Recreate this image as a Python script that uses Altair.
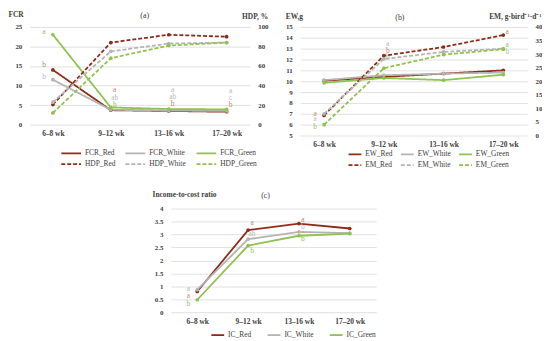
import altair as alt
import pandas as pd

FONT = "Liberation Serif"
RED = "#8E2C17"
WHITE = "#B4B4B4"
GREEN = "#8FC24E"
LET_COL = {"red": "#C97F6A", "white": "#B8B8B8", "green": "#8DC05A"}
TXT = "#404040"

cats = ["6–8 wk", "9–12 wk", "13–16 wk", "17–20 wk"]

# Panel (a)
fcr_names = ["FCR_Red", "FCR_White", "FCR_Green"]
fcr_red = [14.0, 3.7, 3.5, 3.3]
fcr_white = [11.5, 3.8, 3.6, 3.5]
fcr_green = [23.0, 4.4, 4.0, 3.9]
hdp_names = ["HDP_Red", "HDP_White", "HDP_Green"]
hdp_red = [20.5, 84.0, 92.0, 90.0]
hdp_white = [23.0, 75.0, 83.0, 84.0]
hdp_green = [12.0, 68.0, 81.0, 84.0]

a_let_cat = ["6–8 wk", "6–8 wk", "6–8 wk", "9–12 wk", "9–12 wk", "9–12 wk",
             "13–16 wk", "13–16 wk", "13–16 wk", "17–20 wk", "17–20 wk", "17–20 wk"]
a_let_txt = ["a", "b", "b", "a", "ab", "b", "a", "ab", "b", "a", "c", "b"]
a_let_val = [23.8, 15.3, 12.2, 8.8, 6.8, 5.0, 8.8, 7.0, 5.2, 8.5, 6.8, 5.0]
a_let_grp = ["green", "red", "white", "red", "white", "green",
             "white", "white", "red", "white", "white", "red"]

# Panel (b)
ew_names = ["EW_Red", "EW_White", "EW_Green"]
ew_red = [10.05, 10.4, 10.7, 11.0]
ew_white = [10.1, 10.55, 10.7, 10.8]
ew_green = [9.85, 10.3, 10.1, 10.6]
em_names = ["EM_Red", "EM_White", "EM_Green"]
em_red = [7.4, 29.4, 32.6, 37.0]
em_white = [8.0, 28.2, 30.8, 32.0]
em_green = [4.0, 24.8, 29.8, 31.8]

b_let_cat = ["6–8 wk", "6–8 wk", "6–8 wk", "9–12 wk", "9–12 wk", "9–12 wk",
             "17–20 wk", "17–20 wk", "17–20 wk"]
b_let_txt = ["a", "a", "b", "a", "b", "b", "a", "a", "b"]
b_let_val = [7.0, 6.5, 5.8, 13.4, 12.8, 12.2, 14.5, 13.3, 12.7]
b_let_grp = ["red", "white", "green", "white", "red", "green", "red", "green", "white"]

# Panel (c)
ic_names = ["IC_Red", "IC_White", "IC_Green"]
ic_red = [0.8, 3.17, 3.42, 3.23]
ic_white = [0.87, 2.82, 3.1, 3.05]
ic_green = [0.48, 2.57, 2.95, 3.03]

c_let_cat = ["6–8 wk", "6–8 wk", "6–8 wk", "9–12 wk", "9–12 wk", "9–12 wk",
             "13–16 wk", "13–16 wk", "13–16 wk"]
c_let_txt = ["a", "a", "b", "a", "ab", "b", "a", "b", "b"]
c_let_val = [0.9, 0.62, 0.32, 3.45, 3.02, 2.38, 3.55, 3.27, 2.82]
c_let_grp = ["white", "red", "green", "red", "white", "green", "red", "white", "green"]


def make_df(names, vals):
    rows = []
    for n, v in zip(names, vals):
        for c, y in zip(cats, v):
            rows.append({"cat": c, "series": n, "val": y})
    return pd.DataFrame(rows)


def make_let(cat, txt, val, grp):
    return pd.DataFrame({"cat": cat, "txt": txt, "val": val,
                         "col": [LET_COL[g] for g in grp]})


def xenc(pad):
    return alt.X("cat:N", sort=cats, scale=alt.Scale(type="point", padding=pad),
                 axis=alt.Axis(title=None, labelAngle=0, domain=False, ticks=False,
                               grid=False, labelFont=FONT, labelFontSize=7.5,
                               labelFontWeight="bold", labelColor=TXT, labelPadding=5))


def yaxis(vals, title, orient, tx, ty, grid, align):
    return alt.Axis(values=vals, format=".1~f", title=title, orient=orient, titleAngle=0,
                    titleAlign=align, titleBaseline="middle", titleX=tx, titleY=ty,
                    titleFont=FONT, titleFontSize=7.5, titleFontWeight="bold",
                    titleColor=TXT, grid=grid, gridColor="#D9D9D9", gridWidth=0.8,
                    domain=False, ticks=False, labelFont=FONT, labelFontSize=7,
                    labelFontWeight="bold", labelColor=TXT, labelPadding=8)


def legend(lx, ly, cp, path, loff):
    return alt.Legend(title=None, orient="none", legendX=lx, legendY=ly, columns=3,
                      direction="horizontal", symbolType=path, symbolSize=100,
                      symbolStrokeWidth=1.8, labelFont=FONT, labelFontSize=7.5,
                      labelColor=TXT, columnPadding=cp, rowPadding=1, labelOffset=loff)


def letter_layers(ldf, pad, y):
    first = ldf[ldf["cat"] == cats[0]]
    rest = ldf[ldf["cat"] != cats[0]]
    l1 = alt.Chart(first).mark_text(font=FONT, fontSize=7.5, dx=-9).encode(
        x=xenc(pad), y=y, text="txt:N", color=alt.Color("col:N", scale=None))
    l2 = alt.Chart(rest).mark_text(font=FONT, fontSize=7.5, dx=4).encode(
        x=xenc(pad), y=y, text="txt:N", color=alt.Color("col:N", scale=None))
    return [l1, l2]


def dual_panel(ln, lv, rn, rv, ldom, lticks, ltitle, ltx, lty, rdom, rticks, rtitle,
               rtx, rty, ldf, w, h, title, tdx, toff, leg, pad):
    dom = ln + rn
    cscale = alt.Scale(domain=dom, range=[RED, WHITE, GREEN] * 2)
    dscale = alt.Scale(domain=dom, range=[[1, 0]] * 3 + [[4, 2]] * 3)
    yl = alt.Y("val:Q", scale=alt.Scale(domain=ldom, nice=False, zero=False),
               axis=yaxis(lticks, ltitle, "left", ltx, lty, True, "left"))
    yr = alt.Y("val:Q", scale=alt.Scale(domain=rdom, nice=False, zero=False),
               axis=yaxis(rticks, rtitle, "right", rtx, rty, False, "right"))
    left_line = alt.Chart(make_df(ln, lv)).mark_line(
        strokeWidth=1.8, point=alt.OverlayMarkDef(filled=True, size=14)).encode(
        x=xenc(pad), y=yl,
        color=alt.Color("series:N", scale=cscale, legend=leg),
        strokeDash=alt.StrokeDash("series:N", scale=dscale, legend=leg))
    left = alt.layer(left_line, *letter_layers(ldf, pad, yl))
    right = alt.Chart(make_df(rn, rv)).mark_line(
        strokeWidth=1.8, point=alt.OverlayMarkDef(filled=True, size=14)).encode(
        x=xenc(pad), y=yr,
        color=alt.Color("series:N", scale=cscale, legend=leg),
        strokeDash=alt.StrokeDash("series:N", scale=dscale, legend=leg))
    return alt.layer(left, right).resolve_scale(y="independent").properties(
        width=w, height=h,
        title=alt.TitleParams(title, dx=tdx, font=FONT, fontSize=8,
                              fontWeight="normal", color=TXT, offset=toff))


pa = dual_panel(fcr_names, [fcr_red, fcr_white, fcr_green],
                hdp_names, [hdp_red, hdp_white, hdp_green],
                [0, 25], [0, 5, 10, 15, 20, 25], "FCR", -22, -13,
                [0, 100], [0, 20, 40, 60, 80, 100], "HDP, %", 18, -11,
                make_let(a_let_cat, a_let_txt, a_let_val, a_let_grp),
                223, 99, "(a)", 5, -10,
                legend(31, 122, 6, "M-1,0L3,0", 13), 0.4)

pb = dual_panel(ew_names, [ew_red, ew_white, ew_green],
                em_names, [em_red, em_white, em_green],
                [5, 15], list(range(5, 16)), "EW,g", -15, -11,
                [0, 40], list(range(0, 41, 5)), "EM, g·bird⁻¹·d⁻¹", 14, -11,
                make_let(b_let_cat, b_let_txt, b_let_val, b_let_grp),
                230, 110, "(b)", -14, -10,
                legend(48, 123, 4, "M-1,0L1.6,0", 6), 0.4)

# Panel (c)
c_scale = alt.Scale(domain=ic_names, range=[RED, WHITE, GREEN])
c_leg = legend(40, 122, 12, "M-1,0L1.6,0", 6)
yc = alt.Y("val:Q", scale=alt.Scale(domain=[0, 4], nice=False),
           axis=yaxis([0, 0.5, 1, 1.5, 2, 2.5, 3, 3.5, 4], "Income-to-cost ratio",
                      "left", -19, -14, True, "left"))
c_line = alt.Chart(make_df(ic_names, [ic_red, ic_white, ic_green])).mark_line(
    strokeWidth=1.8, point=alt.OverlayMarkDef(filled=True, size=14)).encode(
    x=xenc(0.52), y=yc, color=alt.Color("series:N", scale=c_scale, legend=c_leg))
pc = alt.layer(c_line, *letter_layers(make_let(c_let_cat, c_let_txt, c_let_val, c_let_grp),
                                      0.52, yc)).properties(
    width=208, height=105,
    title=alt.TitleParams("(c)", dx=-8, font=FONT, fontSize=8, fontWeight="normal",
                          color=TXT, offset=-9))

spacer = alt.Chart(pd.DataFrame({"v": [0]})).mark_text(text="").properties(
    width=124, height=10)

top = alt.hconcat(pa, pb, spacing=17).resolve_scale(color="independent",
                                                    strokeDash="independent")
bottom = alt.hconcat(spacer, pc, spacing=0).resolve_scale(color="independent",
                                                          strokeDash="independent")
chart = alt.vconcat(top, bottom, spacing=22).resolve_scale(
    color="independent", strokeDash="independent").properties(padding=0).configure_view(
    stroke=None)

chart.save("out.html", embed_options={"renderer": "svg", "actions": False})
